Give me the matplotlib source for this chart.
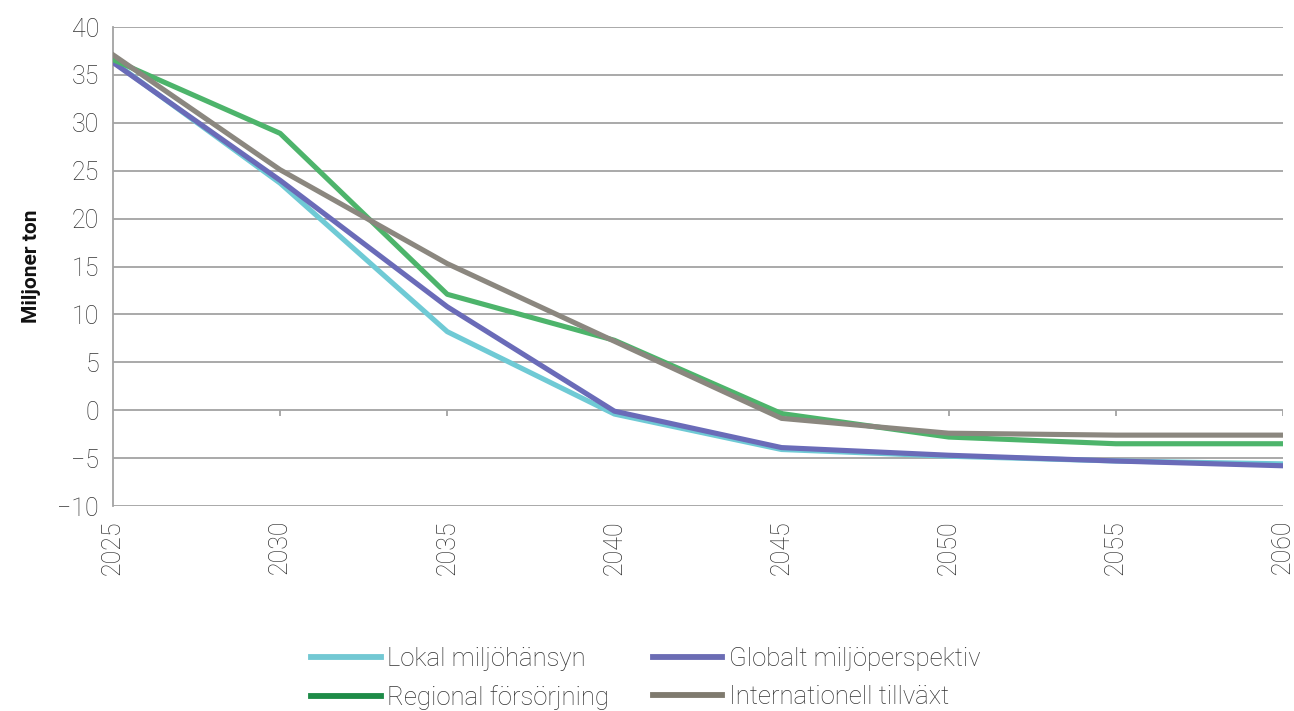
import matplotlib
matplotlib.use("Agg")
import matplotlib.pyplot as plt
from matplotlib.lines import Line2D

years = [2025, 2030, 2035, 2040, 2045, 2050, 2055, 2060]

lokal = [36.4, 23.7, 8.2, -0.4, -4.1, -4.8, -5.3, -5.6]
globalt = [36.3, 24.0, 10.8, -0.1, -3.9, -4.7, -5.3, -5.8]
regional = [36.6, 28.9, 12.1, 7.3, -0.35, -2.8, -3.5, -3.5]
internationell = [37.1, 25.1, 15.3, 7.2, -0.85, -2.4, -2.6, -2.6]

series_names = ["Lokal miljöhänsyn", "Globalt miljöperspektiv",
                "Regional försörjning", "Internationell tillväxt"]
y_ticks = [-10, -5, 0, 5, 10, 15, 20, 25, 30, 35, 40]

line_colors = ["#6fcad5", "#6a6bb8", "#4db46b", "#8b877f"]
legend_colors = ["#72c8d3", "#6b6cb4", "#1d8b47", "#7f7a6e"]

plt.rcParams["font.family"] = ["Roboto", "DejaVu Sans"]
text_color = "#333333"
grid_color = "#a3a3a3"
light = "light"

fig = plt.figure(figsize=(12.94, 7.11), dpi=100)
ax = fig.add_axes([0.0873, 0.2883, 0.9042, 0.6737])

for yv in y_ticks:
    ax.axhline(yv, color=grid_color, lw=1.3, zorder=1)

# small year ticks hanging under the zero line
ax.vlines(years[1:], -0.65, 0, color=grid_color, lw=1.3, zorder=1)

data = [lokal, globalt, regional, internationell]
for i, values in enumerate(data):
    ax.plot(years, values, color=line_colors[i], lw=3.7, zorder=3 + i)

ax.set_xlim(2025, 2060)
ax.set_ylim(-10, 40)
ax.set_yticks(y_ticks)
ax.set_yticklabels([str(v).replace("-", "\u2212") for v in y_ticks],
                   fontweight=light)
ax.set_xticks(years)
ax.set_xticklabels([str(y) for y in years], rotation=90, fontweight=light)

for side in ["top", "right", "bottom"]:
    ax.spines[side].set_visible(False)
ax.spines["left"].set_color(grid_color)
ax.spines["left"].set_linewidth(1.3)

ax.tick_params(axis="both", length=0, labelsize=18, colors=text_color)
ax.tick_params(axis="y", pad=10)
ax.tick_params(axis="x", pad=10)

ax.set_ylabel("Miljoner ton", fontsize=15, fontweight="bold", color="#111111",
              labelpad=12)

# matplotlib fills legend columns first, so interleave to get rows right
leg_order = [0, 2, 1, 3]
handles = [Line2D([0], [0], color=legend_colors[i], lw=4.2) for i in leg_order]
labels = [series_names[i] for i in leg_order]
leg = fig.legend(handles, labels, loc="center", bbox_to_anchor=(0.499, 0.046),
                 ncol=2, frameon=False, fontsize=18.5, handlelength=2.7,
                 handletextpad=0.25, columnspacing=1.7, labelspacing=0.55,
                 labelcolor=text_color)
for t in leg.get_texts():
    t.set_fontweight(light)

fig.savefig("out.png", dpi=100)
